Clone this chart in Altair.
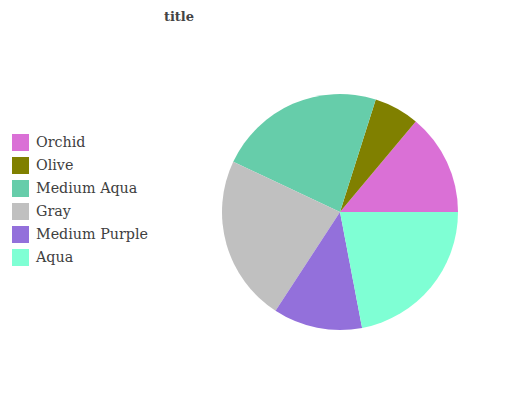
import math
import altair as alt
import pandas as pd

categories = ["Orchid", "Olive", "Medium Aqua", "Gray", "Medium Purple", "Aqua"]
values = [13.9, 6.2, 22.9, 22.8, 12.2, 22.0]
colors = ["#DA70D6", "#808000", "#66CDAA", "#C0C0C0", "#9370DB", "#7FFFD4"]

df = pd.DataFrame({"category": categories, "value": values, "order": list(range(len(categories)))})

chart = (
    alt.Chart(df)
    .mark_arc(radius=118)
    .encode(
        theta=alt.Theta("value:Q", stack=True,
                        scale=alt.Scale(range=[math.pi / 2, math.pi / 2 - 2 * math.pi])),
        order=alt.Order("order:Q"),
        color=alt.Color(
            "category:N",
            scale=alt.Scale(domain=categories, range=colors),
            sort=categories,
            legend=alt.Legend(
                title=None,
                orient="none",
                legendX=4,
                legendY=86,
                symbolType="square",
                symbolSize=289,
                symbolStrokeWidth=0,
                labelFont="DejaVu Serif",
                labelFontSize=14.3,
                labelColor="#404040",
                labelOffset=7,
                rowPadding=6,
            ),
        ),
        x=alt.value(332),
        y=alt.value(164),
    )
    .properties(
        width=516,
        height=344,
        padding={"left": 0, "right": 0, "top": 40, "bottom": 0},
        autosize=alt.AutoSizeParams(type="none"),
        title=alt.TitleParams(
            "title",
            font="DejaVu Serif",
            fontSize=13,
            fontWeight="bold",
            color="#444444",
            anchor="middle",
            dx=-87,
            offset=24,
        ),
    )
    .configure_view(stroke=None)
)

chart.save("out.html", embed_options={"renderer": "svg", "actions": False})
